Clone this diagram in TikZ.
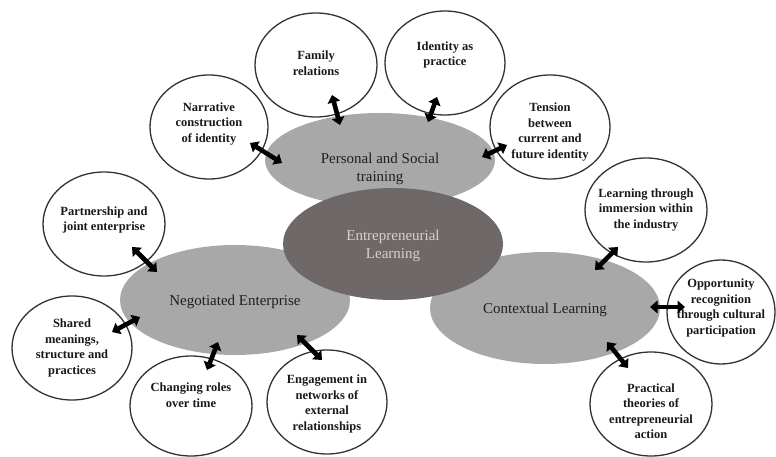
\documentclass[tikz,border=0pt]{standalone}
\usepackage{fontspec}
\setmainfont{Liberation Serif}
\usetikzlibrary{shapes.geometric,arrows.meta,calc}
\definecolor{lgray}{RGB}{168,168,168}
\definecolor{dgray}{RGB}{110,104,104}
\definecolor{ltext}{RGB}{214,208,208}
\definecolor{outl}{RGB}{50,50,50}
\tikzset{
  big/.style={ellipse, fill=lgray, inner sep=0pt},
  core/.style={ellipse, fill=dgray, inner sep=0pt},
  etext/.style={align=center, text=black!88, font=\fontsize{15}{18}\selectfont},
  coretext/.style={align=center, text=ltext, font=\fontsize{15}{18}\selectfont},
  circ/.style={ellipse, draw=outl, line width=1.3pt, fill=white, inner sep=0pt,
    minimum width=120pt, minimum height=104pt},
  ctext/.style={align=center, text=black!90, font=\bfseries\fontsize{12.5}{15.5}\selectfont},
  arr/.style={line width=4.6pt, black,
    {Triangle[length=7.5pt,width=12.5pt]}-{Triangle[length=7.5pt,width=12.5pt]}},
}
\begin{document}
\begin{tikzpicture}[x=1pt,y=-1pt]
\useasboundingbox[fill=white] (0,0) rectangle (776,457);

% gray ellipses
\node[big, minimum width=230pt, minimum height=94pt,
  label={[etext,yshift=-9pt]center:{Personal and Social\\training}}] (pers) at (380,160) {};
\node[big, minimum width=230pt, minimum height=110pt,
  label={[etext,yshift=-2pt]center:{Negotiated Enterprise}}] (neg) at (235,300) {};
\node[big, minimum width=230pt, minimum height=112pt,
  label={[etext,yshift=-2pt]center:{Contextual Learning}}] (ctx) at (545,308) {};
\node[core, minimum width=220pt, minimum height=112pt,
  label={[coretext,yshift=-2pt]center:{Entrepreneurial\\Learning}}] (ent) at (393,244) {};

% circles
\node[circ, minimum width=118pt,
  label={[ctext,yshift=3pt]center:{Narrative\\construction\\of identity}}] (narr) at (209,127) {};
\node[circ, minimum width=122pt,
  label={[ctext,yshift=2pt]center:{Family\\relations}}] (fam) at (316,65) {};
\node[circ,
  label={[ctext,yshift=8pt]center:{Identity as\\practice}}] (idp) at (445,63) {};
\node[circ,
  label={[ctext,yshift=-5pt]center:{Tension\\between\\current and\\future identity}}] (ten) at (550,127) {};
\node[circ, minimum width=122pt,
  label={[ctext]center:{Learning through\\immersion within\\the industry}}] (lrn) at (646,210) {};
\node[circ, minimum width=108pt,
  label={[ctext,yshift=4pt]center:{Opportunity\\recognition\\through cultural\\participation}}] (opp) at (721,312) {};
\node[circ, minimum width=122pt,
  label={[ctext,yshift=-7pt]center:{Practical\\theories of\\entrepreneurial\\action}}] (prac) at (651,404) {};
\node[circ, minimum width=122pt,
  label={[ctext,yshift=4pt]center:{Partnership and\\joint enterprise}}] (part) at (104,224) {};
\node[circ,
  label={[ctext]center:{Shared\\meanings,\\structure and\\practices}}] (shr) at (72,348) {};
\node[circ, minimum width=122pt, minimum height=100pt,
  label={[ctext,yshift=11pt]center:{Changing roles\\over time}}] (chg) at (191,406) {};
\node[circ,
  label={[ctext,yshift=-2pt]center:{Engagement in\\networks of\\external\\relationships}}] (eng) at (327,402) {};

% arrows
\draw[arr] ($(narr)+(41,16)$) -- ($(pers)+(-98,3)$);
\draw[arr] ($(fam)+(16,30)$) -- ($(pers)+(-40,-35)$);
\draw[arr] ($(idp)+(-8,34)$) -- ($(pers)+(48,-38)$);
\draw[arr] ($(ten)+(-43,18)$) -- ($(pers)+(102,-3)$);
\draw[arr] ($(lrn)+(-28,37)$) -- ($(ctx)+(50,-38)$);
\draw[arr] ($(ctx)+(105,-1)$) -- ($(opp)+(-36,-5)$);
\draw[arr] ($(ctx)+(62,34)$) -- ($(prac)+(-23,-36)$);
\draw[arr] ($(part)+(28,23)$) -- ($(neg)+(-78,-28)$);
\draw[arr] ($(shr)+(40,-16)$) -- ($(neg)+(-95,17)$);
\draw[arr] ($(neg)+(-17,42)$) -- ($(chg)+(16,-36)$);
\draw[arr] ($(neg)+(62,35)$) -- ($(eng)+(-5,-42)$);
\end{tikzpicture}
\end{document}
